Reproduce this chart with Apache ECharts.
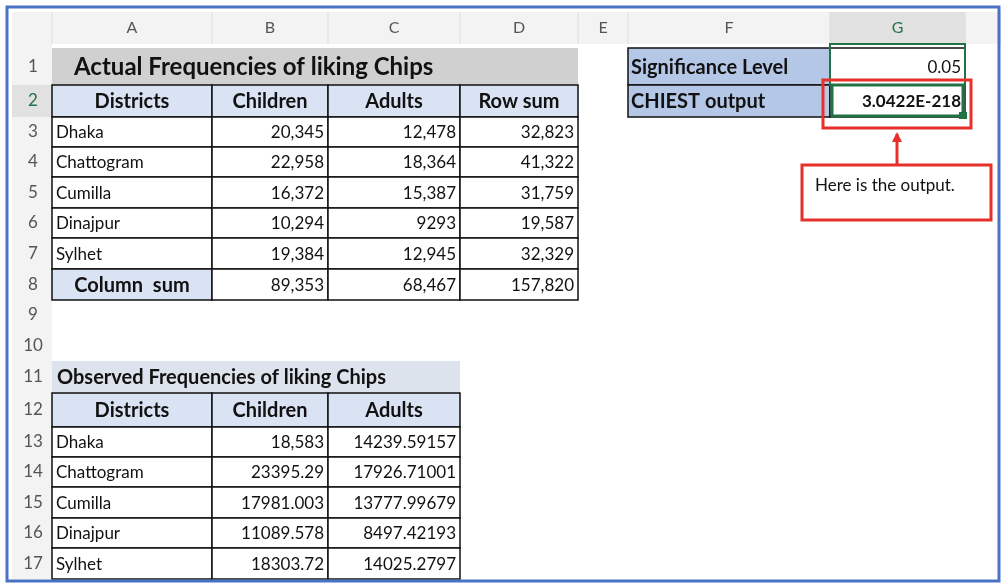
<!doctype html>
<html>
<head>
<meta charset="utf-8">
<script src="https://cdn.jsdelivr.net/npm/echarts@6/dist/echarts.min.js"></script>
<style>html,body{margin:0;padding:0;background:#fff}#main{width:1006px;height:588px}</style>
</head>
<body>
<div id="main"></div>
<script>
var chart = echarts.init(document.getElementById('main'));

// sheet data
var colLetters = ['A', 'B', 'C', 'D', 'E', 'F', 'G'];
var districts = ['Dhaka', 'Chattogram', 'Cumilla', 'Dinajpur', 'Sylhet'];
var actualChildren = ['20,345', '22,958', '16,372', '10,294', '19,384'];
var actualAdults = ['12,478', '18,364', '15,387', '9293', '12,945'];
var rowSums = ['32,823', '41,322', '31,759', '19,587', '32,329'];
var columnSums = ['89,353', '68,467', '157,820'];
var observedChildren = ['18,583', '23395.29', '17981.003', '11089.578', '18303.72'];
var observedAdults = ['14239.59157', '17926.71001', '13777.99679', '8497.42193', '14025.2797'];
var headers1 = ['Districts', 'Children', 'Adults', 'Row sum'];
var headers2 = ['Districts', 'Children', 'Adults'];
var title1 = 'Actual Frequencies of liking Chips';
var title2 = 'Observed Frequencies of liking Chips';
var sigLabel = 'Significance Level', sigValue = '0.05';
var outLabel = 'CHIEST output', outValue = '3.0422E-218';
var note = 'Here is the output.';

// layout (pixel edges of the sheet)
var colEdges = [52, 212, 328, 460, 578, 628, 830, 965, 1000];
var rowEdges = [48, 85, 117, 147, 177, 208, 238, 269, 300, 330, 361, 393, 427, 457, 487, 518, 548, 579];
var FONT = 'Lato, "Open Sans", sans-serif';

// cells: [col, row(1-based), colSpan, text, style]
var cells = [];
cells.push([0, 1, 4, title1, 'title']);
headers1.forEach(function (h, i) { cells.push([i, 2, 1, h, 'head']); });
districts.forEach(function (d, i) {
    cells.push([0, 3 + i, 1, d, 'name']);
    cells.push([1, 3 + i, 1, actualChildren[i], 'num']);
    cells.push([2, 3 + i, 1, actualAdults[i], 'num']);
    cells.push([3, 3 + i, 1, rowSums[i], 'num']);
});
cells.push([0, 8, 1, 'Column  sum', 'sum']);
columnSums.forEach(function (v, i) { cells.push([1 + i, 8, 1, v, 'num']); });
cells.push([0, 11, 3, title2, 'title2']);
headers2.forEach(function (h, i) { cells.push([i, 12, 1, h, 'head']); });
districts.forEach(function (d, i) {
    cells.push([0, 13 + i, 1, d, 'name']);
    cells.push([1, 13 + i, 1, observedChildren[i], 'num']);
    cells.push([2, 13 + i, 1, observedAdults[i], 'num']);
});
cells.push([5, 1, 1, sigLabel, 'label']);
cells.push([6, 1, 1, sigValue, 'num']);
cells.push([5, 2, 1, outLabel, 'label']);
cells.push([6, 2, 1, outValue, 'numBold']);

var styles = {
    title: { fill: '#d0d0d0', stroke: null, font: 'bold 24px ' + FONT, align: 'left', pad: 22 },
    title2: { fill: '#dde3ec', stroke: null, font: 'bold 20px ' + FONT, align: 'left', pad: 5 },
    head: { fill: '#dae3f3', stroke: '#111', font: 'bold 20px ' + FONT, align: 'center' },
    sum: { fill: '#dae3f3', stroke: '#111', font: 'bold 20px ' + FONT, align: 'center' },
    label: { fill: '#b4c7e7', stroke: '#111', font: 'bold 20px ' + FONT, align: 'left', pad: 3 },
    name: { fill: '#fff', stroke: '#111', font: '17px ' + FONT, align: 'left', pad: 4 },
    num: { fill: '#fff', stroke: '#111', font: '17px ' + FONT, align: 'right', pad: 4 },
    numBold: { fill: '#fff', stroke: '#111', font: 'bold 17px ' + FONT, align: 'right', pad: 4 }
};

function renderSheet(params, api) {
    var kids = [];
    function P(x, y) { return api.coord([x, y]); }
    var a = P(12, 12), b = P(1000, 44);
    kids.push({ type: 'rect', shape: { x: a[0], y: a[1], width: b[0] - a[0], height: b[1] - a[1] }, style: { fill: '#f3f3f3' } });
    var c1 = P(12, 44), c2 = P(52, 579);
    kids.push({ type: 'rect', shape: { x: c1[0], y: c1[1], width: c2[0] - c1[0], height: c2[1] - c1[1] }, style: { fill: '#f3f3f3' } });
    var g1 = P(colEdges[6], 12), g2 = P(colEdges[7], 44);
    kids.push({ type: 'rect', shape: { x: g1[0], y: g1[1], width: g2[0] - g1[0], height: g2[1] - g1[1] }, style: { fill: '#e1e1e1' } });
    var r1 = P(12, rowEdges[1]), r2 = P(52, rowEdges[2]);
    kids.push({ type: 'rect', shape: { x: r1[0], y: r1[1], width: r2[0] - r1[0], height: r2[1] - r1[1] }, style: { fill: '#e1e1e1' } });
    // header separators only
    colEdges.forEach(function (x) {
        var s = P(x, 12), e = P(x, 44);
        kids.push({ type: 'line', shape: { x1: s[0], y1: s[1], x2: e[0], y2: e[1] }, style: { stroke: '#dcdcdc', lineWidth: 1 } });
    });
    colLetters.forEach(function (l, i) {
        var c = P((colEdges[i] + colEdges[i + 1]) / 2, 28);
        kids.push({ type: 'text', x: c[0], y: c[1], style: { text: l, font: '16px ' + FONT, fill: i === 6 ? '#217346' : '#555', align: 'center', verticalAlign: 'middle' } });
    });
    for (var r = 1; r < rowEdges.length; r++) {
        var c = P(33, (rowEdges[r - 1] + rowEdges[r]) / 2);
        kids.push({ type: 'text', x: c[0], y: c[1], style: { text: String(r), font: '17px ' + FONT, fill: r === 2 ? '#217346' : '#555', align: 'center', verticalAlign: 'middle' } });
    }
    return { type: 'group', children: kids };
}

function renderCell(cell, api) {
    var st = styles[cell[4]];
    var a = api.coord([colEdges[cell[0]], rowEdges[cell[1] - 1]]);
    var b = api.coord([colEdges[cell[0] + cell[2]], rowEdges[cell[1]]]);
    var w = b[0] - a[0], h = b[1] - a[1];
    var tx = st.align === 'left' ? a[0] + st.pad : st.align === 'right' ? b[0] - st.pad : a[0] + w / 2;
    return { type: 'group', children: [
        { type: 'rect', shape: { x: a[0], y: a[1], width: w, height: h }, style: { fill: st.fill, stroke: st.stroke || null, lineWidth: 1.5 } },
        { type: 'text', x: tx, y: a[1] + h / 2 + 1, style: { text: cell[3], font: st.font, fill: '#111', align: st.align, verticalAlign: 'middle' } }
    ] };
}

function renderMarks(api) {
    function R(x0, y0, x1, y1, color, lw) {
        var a = api.coord([x0, y0]), b = api.coord([x1, y1]);
        return { type: 'rect', shape: { x: a[0], y: a[1], width: b[0] - a[0], height: b[1] - a[1] }, style: { fill: null, stroke: color, lineWidth: lw } };
    }
    var kids = [];
    kids.push(R(colEdges[6], rowEdges[0] - 4, colEdges[7], rowEdges[1], '#217346', 2));
    kids.push(R(colEdges[6] + 2, rowEdges[1], colEdges[7] - 2, rowEdges[2] - 1, '#217346', 3));
    var h = api.coord([colEdges[7] - 6, rowEdges[2] - 5]);
    kids.push({ type: 'rect', shape: { x: h[0], y: h[1], width: 8, height: 7 }, style: { fill: '#217346' } });
    kids.push(R(823, 80, 971, 128, '#e8302a', 3));
    var s = api.coord([897, 166]), e = api.coord([897, 134]);
    kids.push({ type: 'line', shape: { x1: s[0], y1: s[1], x2: e[0], y2: e[1] }, style: { stroke: '#e8302a', lineWidth: 3 } });
    kids.push({ type: 'polygon', shape: { points: [[e[0] - 5, e[1] + 8], [e[0] + 5, e[1] + 8], [e[0], e[1] - 2]] }, style: { fill: '#e8302a' } });
    kids.push(R(802, 165, 991, 220, '#e8302a', 3));
    var t = api.coord([815, 186]);
    kids.push({ type: 'text', x: t[0], y: t[1], style: { text: note, font: '17px ' + FONT, fill: '#111', verticalAlign: 'middle' } });
    kids.push(R(7, 7, 999, 581, '#4a72c4', 3));
    return { type: 'group', children: kids };
}

var items = [['sheet']].concat(cells).concat([['marks']]);

chart.setOption({
    animation: false,
    grid: { left: 0, right: 0, top: 0, bottom: 0 },
    xAxis: { type: 'value', min: 0, max: 1006, show: false },
    yAxis: { type: 'value', min: 0, max: 588, inverse: true, show: false },
    series: [{
        type: 'custom',
        silent: true,
        data: items.map(function (d, i) { return [i, 0]; }),
        renderItem: function (params, api) {
            var it = items[params.dataIndex];
            if (it[0] === 'sheet') return renderSheet(params, api);
            if (it[0] === 'marks') return renderMarks(api);
            return renderCell(it, api);
        }
    }]
});
</script>
</body>
</html>
